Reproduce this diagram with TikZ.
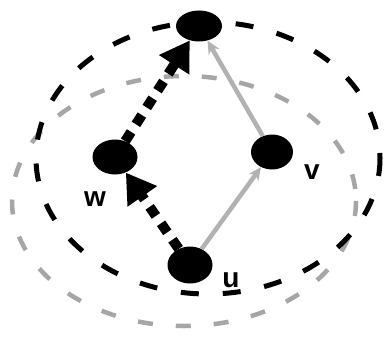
\documentclass[tikz,border=0pt]{standalone}
\usepackage{fontspec}
\setmainfont{Liberation Sans}
\usetikzlibrary{arrows.meta,shapes.geometric}
\begin{document}
\begin{tikzpicture}[x=1pt,y=-1pt,
  vtx/.style={ellipse, fill=black, inner sep=0pt},
  lbl/.style={font=\fontsize{28}{28}\selectfont\bfseries, inner sep=0pt},
  darkring/.style={draw=black, line width=5pt, dash pattern=on 18pt off 24pt},
  grayring/.style={draw=gray!70, line width=4.5pt, dash pattern=on 15pt off 23pt},
  thickedge/.style={draw=black, line width=10pt, dash pattern=on 11pt off 9pt, -{Triangle[length=29pt,width=34pt]}},
  grayedge/.style={draw=gray!60, line width=4.5pt, -{Stealth[length=13pt,width=12pt]}}
]
\useasboundingbox (0,0) rectangle (385,337);
% rings
\draw[grayring] (184,201) ellipse [x radius=172, y radius=125];
\draw[darkring] (208,158) ellipse [x radius=172, y radius=136];
% vertices
\node[vtx, minimum width=46pt, minimum height=31pt] (t) at (199,26) {};
\node[vtx, minimum width=45pt, minimum height=35pt] (w) at (115,157) {};
\node[vtx, minimum width=42pt, minimum height=35pt] (v) at (272,152) {};
\node[vtx, minimum width=45pt, minimum height=37pt] (u) at (190,265) {};
% labels
\node[lbl] (lw) at (95,199) {w};
\node[lbl] (lv) at (312,172) {v};
\node[lbl] (lu) at (231,280) {u};
% edges
\draw[thickedge] (w) -- (t);
\draw[thickedge] (u) -- (w);
\draw[grayedge] (u) -- (v);
\draw[grayedge] (v) -- (t);
\end{tikzpicture}
\end{document}
